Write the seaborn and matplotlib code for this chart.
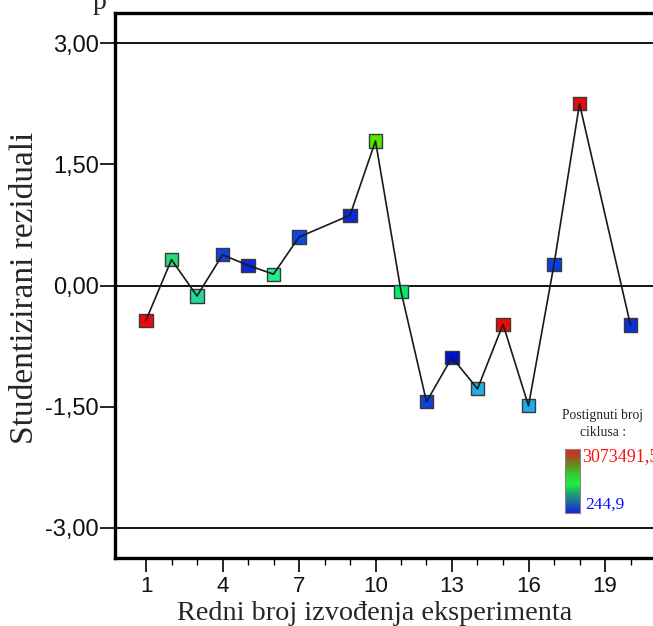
import numpy as np
import pandas as pd
import matplotlib
matplotlib.use("Agg")
import matplotlib.pyplot as plt
import seaborn as sns
from matplotlib.colors import LinearSegmentedColormap

# ---- data ----
eksperiment = [1, 2, 3, 4, 5, 6, 7, 9, 10, 11, 12, 13, 14, 15, 16, 17, 18, 20]
reziduali = [-0.43, 0.32, -0.13, 0.38, 0.25, 0.14, 0.60, 0.87, 1.79, -0.07,
             -1.44, -0.89, -1.28, -0.48, -1.49, 0.26, 2.25, -0.49]
boje_tacaka = ['#ee0a0a', '#22dd77', '#22d899', '#1040e0', '#0a28d8', '#22ee88',
               '#0a48e8', '#0a28d8', '#55e800', '#00ee66', '#1040e0', '#0010d0',
               '#22b0e0', '#ee0a0a', '#22aaee', '#0a40e0', '#ee0a0a', '#0a30d8']
y_ticks = [-3.0, -1.5, 0.0, 1.5, 3.0]
y_tick_labels = ["-3,00", "-1,50", "0,00", "1,50", "3,00"]
x_major = [1, 4, 7, 10, 13, 16, 19]
x_minor = list(range(1, 21))
ref_lines = [3.0, 0.0, -3.0]
cb_title = "Postignuti broj\nciklusa :"
cb_max = "3073491,5"
cb_min = "244,9"
ylabel = "Studentizirani reziduali"
xlabel = "Redni broj izvođenja eksperimenta"

df = pd.DataFrame({"eksperiment": eksperiment, "reziduali": reziduali})
palette = dict(zip(eksperiment, boje_tacaka))

sns.set_theme(style="white")
plt.rcParams['font.family'] = ['Liberation Sans', 'DejaVu Sans']

fig = plt.figure(figsize=(6.53, 6.26), dpi=100)
ax = fig.add_axes([115.4 / 653, 68 / 626, 540.6 / 653, 545 / 626])

for yv in ref_lines:
    ax.axhline(yv, color='black', lw=1.3, zorder=1)

sns.scatterplot(data=df, x="eksperiment", y="reziduali", hue="eksperiment",
                palette=palette, marker='s', s=90, edgecolor='#3a3a3a',
                linewidth=1.0, legend=False, ax=ax, zorder=3)
sns.lineplot(data=df, x="eksperiment", y="reziduali", color='#1a1a1a',
             lw=1.2, ax=ax, zorder=4, sort=True, estimator=None)

ax.set_xlim(-0.2, 21.0)
ax.set_ylim(-3.375, 3.375)
ax.set_yticks(y_ticks)
ax.set_yticklabels(y_tick_labels)
ax.set_xticks(x_major)
ax.set_xticklabels([str(v) for v in x_major])
ax.set_xticks(x_minor, minor=True)

for s in ['left', 'bottom', 'top']:
    ax.spines[s].set_visible(True)
    ax.spines[s].set_linewidth(2.4)
    ax.spines[s].set_color('black')
ax.spines['right'].set_visible(False)

ax.tick_params(axis='y', which='major', direction='out', length=11, width=1.2,
               color='black', left=True, labelsize=17, pad=1, labelcolor='#111111')
ax.tick_params(axis='x', which='major', direction='out', length=10, width=1.2,
               color='black', bottom=True, labelsize=16, pad=3, labelcolor='#111111')
ax.tick_params(axis='x', which='minor', direction='out', length=5, width=1.0,
               color='black', bottom=True)

ax.set_xlabel(xlabel, family=['Liberation Serif'], fontsize=20.3, va='top')
ax.xaxis.set_label_coords(374.5 / 653, (626 - 601) / 626, transform=fig.transFigure)
ax.set_ylabel(ylabel, family=['Liberation Serif'], fontsize=24, va='center')
ax.yaxis.set_label_coords(25 / 653, (626 - 288) / 626, transform=fig.transFigure)
ax.grid(False)

# clipped title fragment at top
fig.text(100 / 653, 1 - 9 / 626, "p", family=['Liberation Serif'], fontsize=20,
         ha='center', va='baseline')

# colour scale
cmap = LinearSegmentedColormap.from_list(
    "ciklusi",
    [(0.0, '#1028d0'), (0.15, '#2060b0'), (0.3, '#20a070'), (0.45, '#20f040'),
     (0.6, '#30d030'), (0.75, '#6a8a20'), (0.88, '#a05020'), (1.0, '#e82020')])
cax = fig.add_axes([565 / 653, (626 - 513) / 626, 15 / 653, 64 / 626])
grad = np.linspace(0, 1, 256).reshape(-1, 1)
cax.imshow(grad, aspect='auto', cmap=cmap, origin='lower')
cax.set_xticks([])
cax.set_yticks([])
for s in cax.spines.values():
    s.set_visible(True)
    s.set_color('#888888')
    s.set_linewidth(0.8)

fig.text(603 / 653, 1 - 424 / 626, cb_title, family=['Liberation Serif'],
         fontsize=9.8, ha='center', va='center', linespacing=1.35)
fig.text(582 / 653, 1 - 457 / 626, cb_max, family=['Liberation Serif'],
         fontsize=13, color='#ff1010', ha='left', va='center')
fig.text(585 / 653, 1 - 505 / 626, cb_min, family=['Liberation Serif'],
         fontsize=12.5, color='#1010ff', ha='left', va='center')

fig.savefig("out.png", dpi=100)
